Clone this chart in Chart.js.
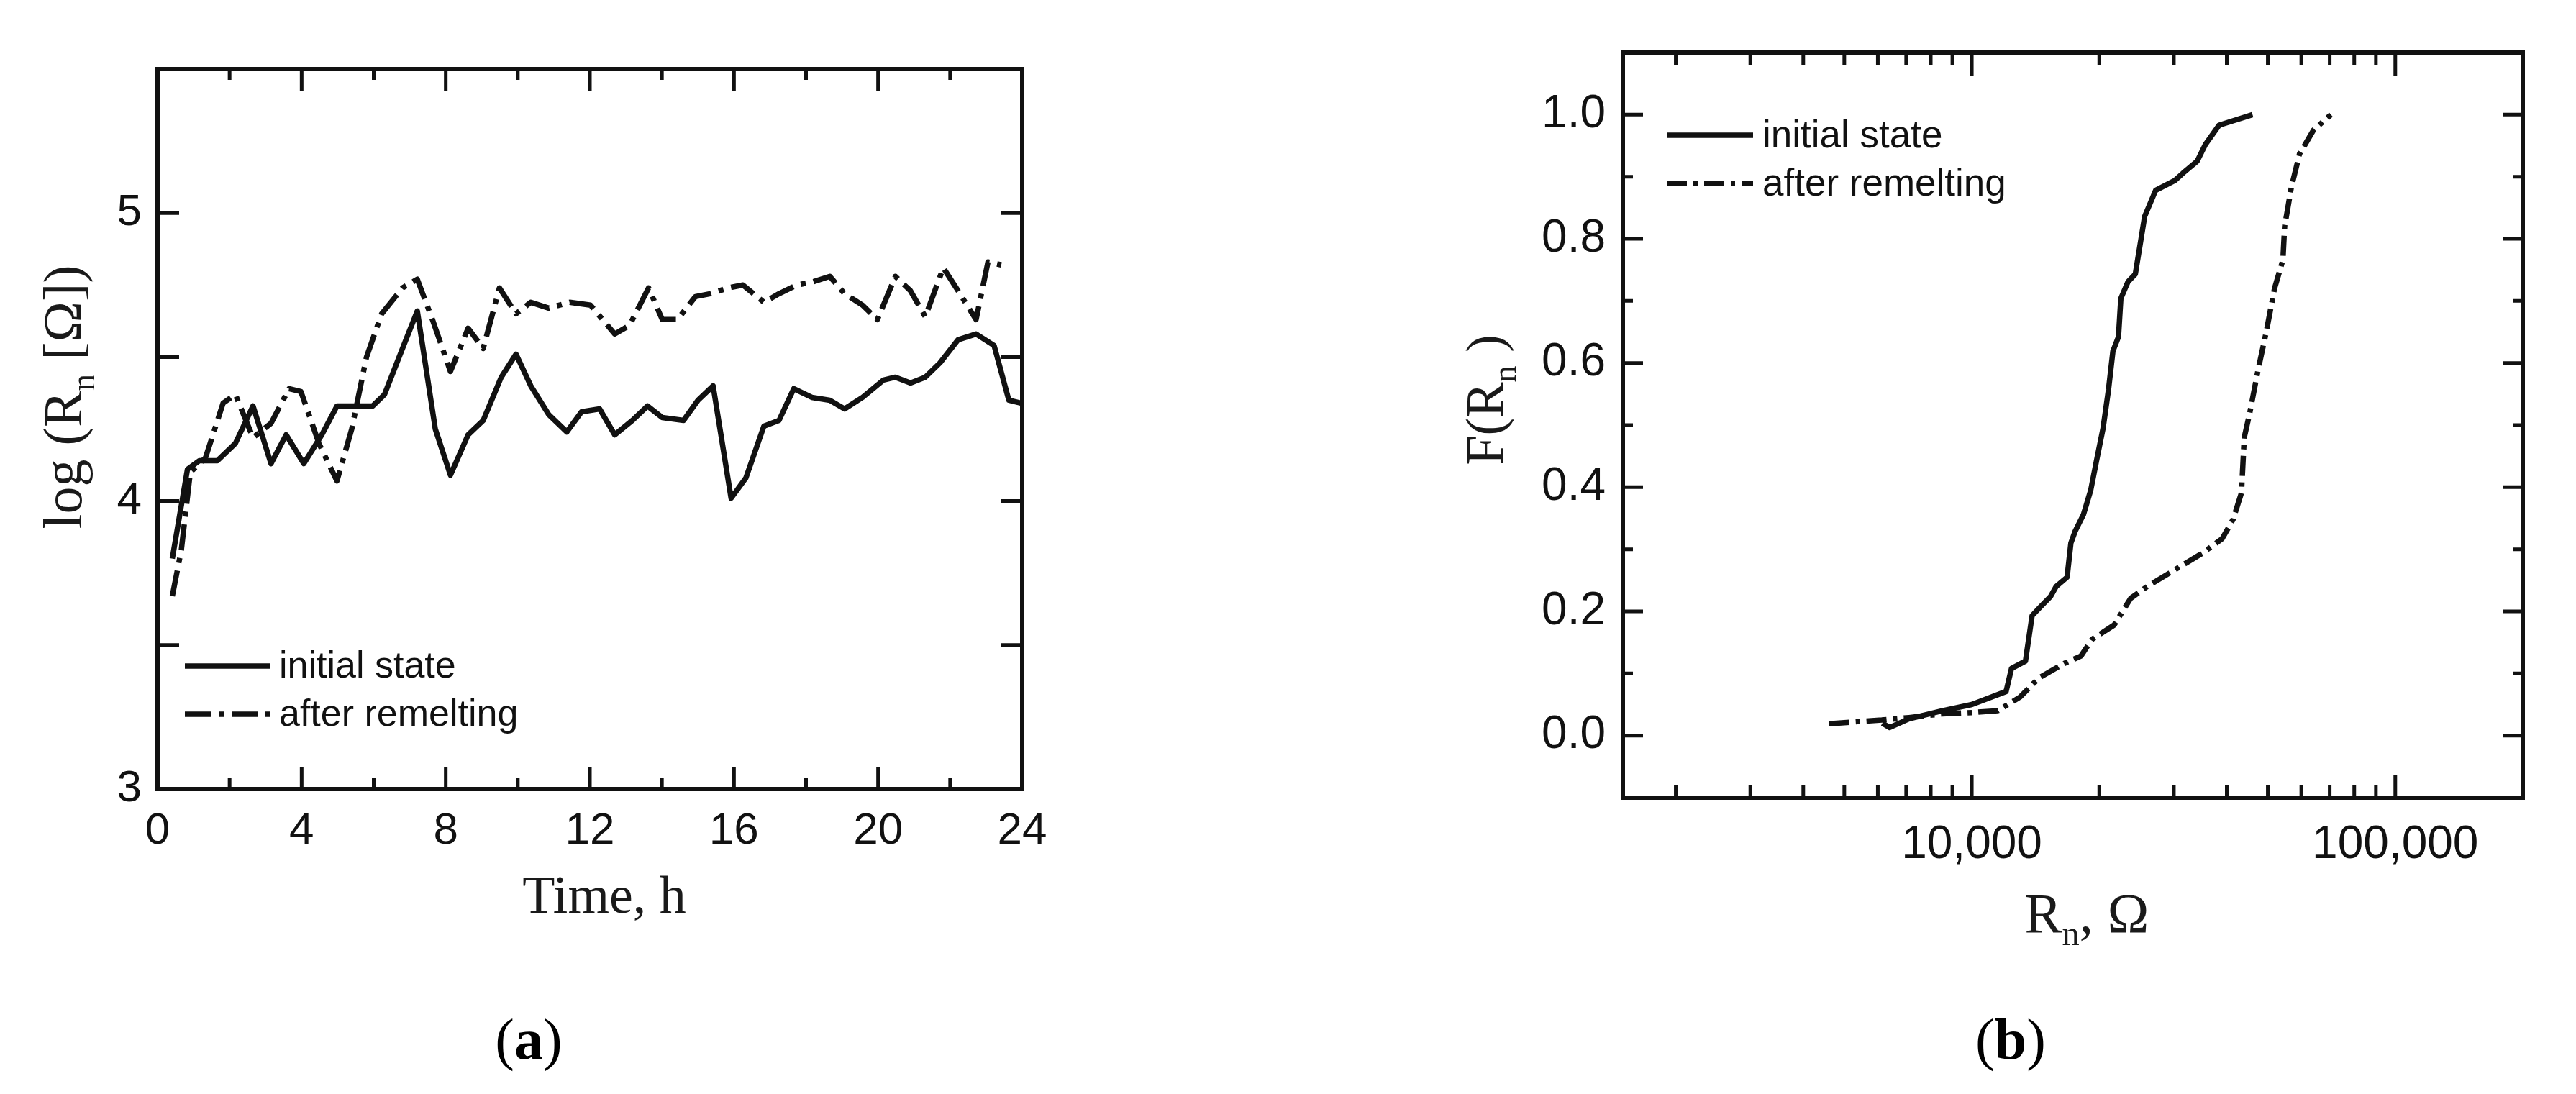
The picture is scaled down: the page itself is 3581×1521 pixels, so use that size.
<!DOCTYPE html>
<html>
<head>
<meta charset="utf-8">
<script src="https://cdn.jsdelivr.net/npm/chart.js@4.4.1/dist/chart.umd.min.js"></script>
<style>
html,body{margin:0;padding:0;background:#fff;width:3581px;height:1521px;overflow:hidden}
#ca{position:absolute;left:0;top:0}
#cb{position:absolute;left:1790px;top:0}
.lab{position:absolute;font-family:"Liberation Serif",serif;font-size:80px;line-height:80px;color:#000;transform:translateX(-50%);white-space:nowrap}
</style>
</head>
<body>
<canvas id="ca" width="1790" height="1521"></canvas>
<canvas id="cb" width="1791" height="1521"></canvas>
<div class="lab" style="left:735px;top:1405px">(<b>a</b>)</div>
<div class="lab" style="left:2795px;top:1405px">(<b>b</b>)</div>
<script>
// ---------- Panel (a): log(Rn) vs time ----------
const timeInitial = [0.41, 0.83, 1.16, 1.66, 2.16, 2.65, 3.15, 3.57, 4.06, 4.56, 4.98, 5.97, 6.3, 6.8, 7.21, 7.71, 8.13, 8.62, 9.04, 9.54, 9.95, 10.36, 10.86, 11.36, 11.77, 12.27, 12.69, 13.18, 13.6, 14.01, 14.6, 15.0, 15.42, 15.92, 16.33, 16.83, 17.25, 17.66, 18.16, 18.66, 19.07, 19.57, 20.15, 20.48, 20.9, 21.31, 21.72, 22.22, 22.72, 23.22, 23.63, 23.96];
const logRInitial = [3.80, 4.11, 4.14, 4.14, 4.20, 4.33, 4.13, 4.23, 4.13, 4.23, 4.33, 4.33, 4.37, 4.53, 4.66, 4.25, 4.09, 4.23, 4.28, 4.43, 4.51, 4.40, 4.30, 4.24, 4.31, 4.32, 4.23, 4.28, 4.33, 4.29, 4.28, 4.35, 4.40, 4.01, 4.08, 4.26, 4.28, 4.39, 4.36, 4.35, 4.32, 4.36, 4.42, 4.43, 4.41, 4.43, 4.48, 4.56, 4.58, 4.54, 4.35, 4.34];
const timeRemelt = [0.41, 0.66, 0.91, 1.33, 1.82, 2.16, 2.65, 3.15, 3.65, 3.98, 4.48, 4.98, 5.39, 5.8, 6.22, 6.8, 7.21, 7.63, 8.13, 8.62, 9.04, 9.49, 9.95, 10.36, 10.86, 11.44, 12.02, 12.69, 13.1, 13.63, 14.01, 14.43, 14.93, 15.34, 15.84, 16.25, 16.83, 17.25, 17.74, 18.16, 18.66, 19.07, 19.57, 19.98, 20.48, 20.9, 21.31, 21.81, 22.22, 22.72, 23.05, 23.42];
const logRRemelt = [3.67, 3.83, 4.10, 4.15, 4.34, 4.37, 4.22, 4.27, 4.39, 4.38, 4.20, 4.07, 4.25, 4.50, 4.65, 4.74, 4.77, 4.63, 4.45, 4.60, 4.53, 4.74, 4.65, 4.69, 4.67, 4.69, 4.68, 4.58, 4.61, 4.74, 4.63, 4.63, 4.71, 4.72, 4.74, 4.75, 4.69, 4.72, 4.75, 4.76, 4.78, 4.72, 4.68, 4.63, 4.78, 4.73, 4.64, 4.81, 4.73, 4.63, 4.83, 4.82];
const timeTicks = [0, 4, 8, 12, 16, 20, 24];
const timeMinorTicks = [2, 6, 10, 14, 18, 22];
const logRTicks = [3, 4, 5];
const logRMinorTicks = [3.5, 4.5];

// ---------- Panel (b): F(Rn) vs Rn ----------
const rInitial = [6150, 6400, 7110, 8525, 10000, 12050, 12410, 13390, 13880, 14420, 15340, 15820, 16790, 17140, 17540, 18350, 19090, 19680, 20420, 21030, 21540, 22200, 22490, 23390, 24330, 25060, 25600, 27170, 30170, 31560, 34050, 35620, 38370, 46020];
const fInitial = [0.020, 0.013, 0.027, 0.040, 0.050, 0.071, 0.108, 0.120, 0.193, 0.205, 0.224, 0.240, 0.255, 0.310, 0.329, 0.356, 0.395, 0.441, 0.495, 0.557, 0.619, 0.642, 0.704, 0.731, 0.743, 0.797, 0.836, 0.878, 0.894, 0.906, 0.925, 0.952, 0.983, 1.000];
const rRemelt = [4605, 5270, 6130, 7110, 8525, 10000, 11520, 13000, 14420, 16520, 18100, 19230, 21680, 23720, 25940, 30170, 35080, 39000, 41400, 43330, 43990, 45310, 47400, 49580, 51860, 54280, 54790, 56800, 59420, 61260, 64100, 70500];
const fRemelt = [0.019, 0.022, 0.025, 0.029, 0.035, 0.037, 0.040, 0.062, 0.093, 0.116, 0.128, 0.155, 0.178, 0.221, 0.240, 0.267, 0.294, 0.317, 0.348, 0.391, 0.480, 0.519, 0.588, 0.650, 0.720, 0.766, 0.820, 0.882, 0.937, 0.952, 0.975, 1.000];
const rTicks = [10000, 100000];
const rMinorTicks = [2000, 3000, 4000, 5000, 6000, 7000, 8000, 9000, 20000, 30000, 40000, 50000, 60000, 70000, 80000, 90000];
const fTicks = [0.0, 0.2, 0.4, 0.6, 0.8, 1.0];
const fMinorTicks = [0.1, 0.3, 0.5, 0.7, 0.9];

const seriesLabels = ['initial state', 'after remelting'];

// ---------- helpers ----------
const INK = '#111';
const pts = (xs, ys) => xs.map((x, i) => ({x: x, y: ys[i]}));
function lineDs(label, data, dash, width) {
  return {label: label, data: data, borderColor: INK, borderWidth: width, borderDash: dash,
    pointRadius: 0, tension: 0, fill: false, borderJoinStyle: 'round', borderCapStyle: 'butt'};
}
function drawRich(ctx, parts, cx, cy, size, rot, color) {
  ctx.save();
  ctx.translate(cx, cy);
  ctx.rotate(rot);
  ctx.fillStyle = color;
  ctx.textBaseline = 'alphabetic';
  ctx.textAlign = 'left';
  let total = 0;
  const ws = parts.map(p => {
    ctx.font = (p.sub ? size * 0.62 : size) + 'px "Liberation Serif"';
    const w = ctx.measureText(p.t).width; total += w; return w;
  });
  let x = -total / 2;
  const base = size * 0.33;
  parts.forEach((p, i) => {
    ctx.font = (p.sub ? size * 0.62 : size) + 'px "Liberation Serif"';
    ctx.fillText(p.t, x, base + (p.sub ? size * 0.24 : 0));
    x += ws[i];
  });
  ctx.restore();
}
function makeFrame(c) {
  return {
    id: 'frame',
    afterDatasetsDraw(chart) {
      const ctx = chart.ctx, a = chart.chartArea, xs = chart.scales.x, ys = chart.scales.y;
      ctx.save();
      ctx.strokeStyle = INK;
      ctx.lineWidth = c.tickWidth;
      ctx.setLineDash([]);
      const tx = (vals, len) => vals.forEach(v => {
        const p = xs.getPixelForValue(v);
        ctx.beginPath();
        ctx.moveTo(p, a.bottom); ctx.lineTo(p, a.bottom - len);
        ctx.moveTo(p, a.top); ctx.lineTo(p, a.top + len);
        ctx.stroke();
      });
      const ty = (vals, len) => vals.forEach(v => {
        const p = ys.getPixelForValue(v);
        ctx.beginPath();
        ctx.moveTo(a.left, p); ctx.lineTo(a.left + len, p);
        ctx.moveTo(a.right, p); ctx.lineTo(a.right - len, p);
        ctx.stroke();
      });
      tx(c.xMajor, c.xMajorLen); tx(c.xMinor, c.xMinorLen);
      ty(c.yMajor, c.yMajorLen); ty(c.yMinor, c.yMinorLen);
      ctx.lineWidth = c.borderWidth;
      ctx.lineJoin = 'miter';
      ctx.strokeRect(a.left, a.top, a.right - a.left, a.bottom - a.top);
      // legend
      chart.data.datasets.forEach((ds, i) => {
        const y = c.legend.rows[i];
        ctx.lineWidth = ds.borderWidth;
        ctx.setLineDash(ds.borderDash || []);
        ctx.beginPath(); ctx.moveTo(c.legend.x1, y); ctx.lineTo(c.legend.x2, y); ctx.stroke();
        ctx.setLineDash([]);
        ctx.fillStyle = INK;
        ctx.font = c.legend.size + 'px "Liberation Sans"';
        ctx.textBaseline = 'middle';
        ctx.textAlign = 'left';
        ctx.fillText(ds.label, c.legend.tx, y + 2);
      });
      // axis titles
      drawRich(ctx, c.xTitle.parts, c.xTitle.x, c.xTitle.y, c.xTitle.size, 0, '#1a1a1a');
      drawRich(ctx, c.yTitle.parts, c.yTitle.x, c.yTitle.y, c.yTitle.size, -Math.PI / 2, '#1a1a1a');
      ctx.restore();
    }
  };
}
const tickFont = (s) => ({family: 'Liberation Sans', size: s});

// ---------- chart (a) ----------
new Chart(document.getElementById('ca'), {
  type: 'line',
  data: {datasets: [
    lineDs(seriesLabels[0], pts(timeInitial, logRInitial), [], 7.5),
    lineDs(seriesLabels[1], pts(timeRemelt, logRRemelt), [36, 11, 7, 11], 7.5)
  ]},
  options: {
    responsive: false, animation: false, devicePixelRatio: 1,
    layout: {padding: {top: 96, right: 369, left: 0, bottom: 0}},
    plugins: {legend: {display: false}, tooltip: {enabled: false}},
    scales: {
      x: {type: 'linear', min: 0, max: 24,
        afterBuildTicks: s => { s.ticks = timeTicks.map(v => ({value: v})); },
        afterFit: s => { s.height = 424; },
        grid: {display: false}, border: {display: false},
        ticks: {font: tickFont(62), color: INK, padding: 14, maxRotation: 0, autoSkip: false}},
      y: {type: 'linear', min: 3, max: 5.5,
        afterBuildTicks: s => { s.ticks = logRTicks.map(v => ({value: v})); },
        afterFit: s => { s.width = 219; },
        grid: {display: false}, border: {display: false},
        ticks: {font: tickFont(62), color: INK, padding: 14, autoSkip: false}}
    }
  },
  plugins: [makeFrame({
    xMajor: timeTicks, xMinor: timeMinorTicks, yMajor: logRTicks, yMinor: logRMinorTicks,
    xMajorLen: 30, xMinorLen: 15, yMajorLen: 30, yMinorLen: 30, tickWidth: 5, borderWidth: 6,
    legend: {x1: 257, x2: 375, tx: 388, rows: [926, 993], size: 52},
    xTitle: {parts: [{t: 'Time, h'}], x: 840, y: 1245, size: 74},
    yTitle: {parts: [{t: 'log (R'}, {t: 'n', sub: true}, {t: ' [Ω])'}], x: 88, y: 552, size: 76}
  })]
});

// ---------- chart (b) ----------
new Chart(document.getElementById('cb'), {
  type: 'line',
  data: {datasets: [
    lineDs(seriesLabels[0], pts(rInitial, fInitial), [], 7.5),
    lineDs(seriesLabels[1], pts(rRemelt, fRemelt), [28, 9, 6, 9], 7.5)
  ]},
  options: {
    responsive: false, animation: false, devicePixelRatio: 1,
    layout: {padding: {top: 73, right: 74, left: 0, bottom: 0}},
    plugins: {legend: {display: false}, tooltip: {enabled: false}},
    scales: {
      x: {type: 'logarithmic', min: 1500, max: 200000,
        afterBuildTicks: s => { s.ticks = rTicks.map(v => ({value: v})); },
        afterFit: s => { s.height = 412; },
        grid: {display: false}, border: {display: false},
        ticks: {font: tickFont(64), color: INK, padding: 20, maxRotation: 0, autoSkip: false,
          callback: v => Number(v).toLocaleString('en-US')}},
      y: {type: 'linear', min: -0.1, max: 1.1,
        afterBuildTicks: s => { s.ticks = fTicks.map(v => ({value: v})); },
        afterFit: s => { s.width = 466; },
        grid: {display: false}, border: {display: false},
        ticks: {font: tickFont(64), color: INK, padding: 16, autoSkip: false,
          callback: v => Number(v).toFixed(1)}}
    }
  },
  plugins: [makeFrame({
    xMajor: rTicks, xMinor: rMinorTicks, yMajor: fTicks, yMinor: fMinorTicks,
    xMajorLen: 32, xMinorLen: 17, yMajorLen: 28, yMinorLen: 14, tickWidth: 5, borderWidth: 6,
    legend: {x1: 527, x2: 647, tx: 660, rows: [188, 255], size: 53},
    xTitle: {parts: [{t: 'R'}, {t: 'n', sub: true}, {t: ', Ω'}], x: 1111, y: 1270, size: 78},
    yTitle: {parts: [{t: 'F(R'}, {t: 'n', sub: true}, {t: ' )'}], x: 275, y: 556, size: 74}
  })]
});
</script>
</body>
</html>
